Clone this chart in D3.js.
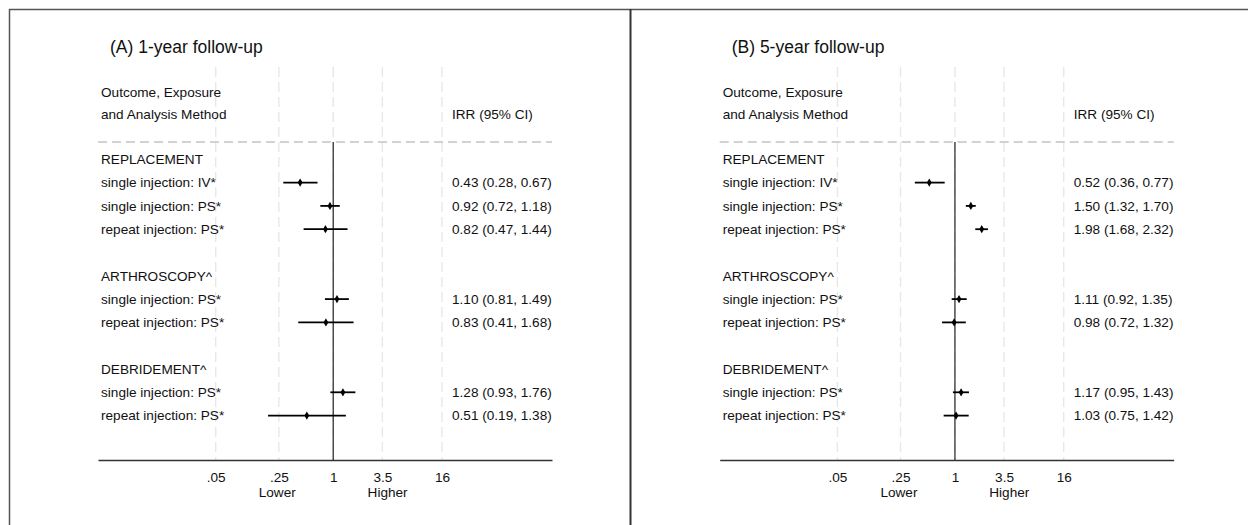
<!DOCTYPE html>
<html>
<head>
<meta charset="utf-8">
<script src="https://cdn.jsdelivr.net/npm/d3@7"></script>
<style>
  body { margin: 0; background: #fff; }
  svg { display: block; font-family: "Liberation Sans", Arial, Helvetica, sans-serif; }
</style>
</head>
<body>
<div id="chart"></div>
<script>
// rows of the forest plot (blank strings are spacer rows)
var rowLabels = ["REPLACEMENT", "single injection: IV*", "single injection: PS*", "repeat injection: PS*", "",
                 "ARTHROSCOPY^", "single injection: PS*", "repeat injection: PS*", "",
                 "DEBRIDEMENT^", "single injection: PS*", "repeat injection: PS*"];

// panel A, 1-year follow-up
var irr1 = [null, 0.43, 0.92, 0.82, null, null, 1.10, 0.83, null, null, 1.28, 0.51];
var lo1  = [null, 0.28, 0.72, 0.47, null, null, 0.81, 0.41, null, null, 0.93, 0.19];
var hi1  = [null, 0.67, 1.18, 1.44, null, null, 1.49, 1.68, null, null, 1.76, 1.38];

// panel B, 5-year follow-up
var irr5 = [null, 0.52, 1.50, 1.98, null, null, 1.11, 0.98, null, null, 1.17, 1.03];
var lo5  = [null, 0.36, 1.32, 1.68, null, null, 0.92, 0.72, null, null, 0.95, 0.75];
var hi5  = [null, 0.77, 1.70, 2.32, null, null, 1.35, 1.32, null, null, 1.43, 1.42];

var tickVals   = [0.05, 0.25, 1, 3.5, 16];
var tickLabels = [".05", ".25", "1", "3.5", "16"];

var panelTitles = ["(A) 1-year follow-up", "(B) 5-year follow-up"];

var W = 1248, H = 525;
var fs = 13.6;
var row0 = 159.3, rowH = 23.3;   // centre of first row, row step
var axisY = 460, hdrY = 142;

var svg = d3.select('#chart').append('svg')
  .attr('width', W).attr('height', H);

// frame
svg.append('line').attr('x1', 9).attr('x2', W).attr('y1', 9.5).attr('y2', 9.5)
  .style('stroke', '#555').style('stroke-width', 1.5);
svg.append('line').attr('x1', 9.5).attr('x2', 9.5).attr('y1', 9).attr('y2', H)
  .style('stroke', '#555').style('stroke-width', 1.5);
svg.append('line').attr('x1', 630.5).attr('x2', 630.5).attr('y1', 9).attr('y2', H)
  .style('stroke', '#333').style('stroke-width', 2);

var fmt = d3.format('.2f');

function drawPanel(offset, title, irr, lo, hi){
  var g = svg.append('g').attr('transform', 'translate(' + offset + ',0)');

  // log scale: ticks .05..16 fixed on screen, then stretched to the axis line
  var x0 = d3.scaleLog().domain([0.05, 16]).range([215.7, 442]);
  var x = x0.copy().domain([x0.invert(98), x0.invert(552)]).range([98, 552]);

  // light vertical grid
  g.selectAll('.grid').data(tickVals).enter().append('line')
    .attr('class', 'grid')
    .attr('x1', function(d){ return x(d); })
    .attr('x2', function(d){ return x(d); })
    .attr('y1', 67).attr('y2', axisY)
    .style('stroke', '#e8e8e8').style('stroke-width', 1.4)
    .style('stroke-dasharray', '10,5');

  // header separator
  g.append('line').attr('x1', 98).attr('x2', 552).attr('y1', hdrY).attr('y2', hdrY)
    .style('stroke', '#c4c4c4').style('stroke-width', 1.3)
    .style('stroke-dasharray', '9,5');

  // null line
  g.append('line').attr('x1', x(1)).attr('x2', x(1)).attr('y1', hdrY).attr('y2', axisY)
    .style('stroke', '#333').style('stroke-width', 1.3);

  // axis
  var axis = d3.axisBottom(x).tickValues(tickVals)
    .tickFormat(function(d, i){ return tickLabels[i]; })
    .tickSizeInner(0).tickSizeOuter(0).tickPadding(12);
  var ax = g.append('g').attr('transform', 'translate(0,' + axisY + ')').call(axis);
  ax.select('.domain').style('stroke', '#333').style('stroke-width', 1.3);
  ax.selectAll('text').style('font-size', fs + 'px').style('fill', '#111')
    .style('font-family', '"Liberation Sans", Arial, sans-serif');

  g.append('text').attr('x', x(0.24)).attr('y', 496.5).attr('text-anchor', 'middle')
    .style('font-size', fs + 'px').style('fill', '#111').text('Lower');
  g.append('text').attr('x', x(4.0)).attr('y', 496.5).attr('text-anchor', 'middle')
    .style('font-size', fs + 'px').style('fill', '#111').text('Higher');

  // title and headers
  g.append('text').attr('x', 110).attr('y', 53)
    .style('font-size', '17.5px').style('fill', '#111').text(title);
  g.append('text').attr('x', 101).attr('y', 96.5)
    .style('font-size', fs + 'px').style('fill', '#111').text('Outcome, Exposure');
  g.append('text').attr('x', 101).attr('y', 119)
    .style('font-size', fs + 'px').style('fill', '#111').text('and Analysis Method');
  g.append('text').attr('x', 452).attr('y', 119)
    .style('font-size', fs + 'px').style('fill', '#111').text('IRR (95% CI)');

  var rows = rowLabels.map(function(lab, i){
    return { label: lab, est: irr[i], lo: lo[i], hi: hi[i], y: row0 + i * rowH };
  });

  g.selectAll('.rowlabel').data(rows).enter().append('text')
    .attr('class', 'rowlabel')
    .attr('x', 101).attr('y', function(d){ return d.y + 4.8; })
    .style('font-size', fs + 'px').style('fill', '#111')
    .text(function(d){ return d.label; });

  var est = rows.filter(function(d){ return d.est != null; });

  g.selectAll('.ci').data(est).enter().append('line')
    .attr('class', 'ci')
    .attr('x1', function(d){ return x(d.lo); })
    .attr('x2', function(d){ return x(d.hi); })
    .attr('y1', function(d){ return d.y; })
    .attr('y2', function(d){ return d.y; })
    .style('stroke', '#000').style('stroke-width', 1.8);

  g.selectAll('.pt').data(est).enter().append('path')
    .attr('class', 'pt')
    .attr('d', d3.symbol().type(d3.symbolDiamond).size(20))
    .attr('transform', function(d){ return 'translate(' + x(d.est) + ',' + d.y + ')'; })
    .style('fill', '#000');

  g.selectAll('.val').data(est).enter().append('text')
    .attr('class', 'val')
    .attr('x', 452).attr('y', function(d){ return d.y + 4.8; })
    .style('font-size', fs + 'px').style('fill', '#111')
    .text(function(d){ return fmt(d.est) + ' (' + fmt(d.lo) + ', ' + fmt(d.hi) + ')'; });
}

drawPanel(0, panelTitles[0], irr1, lo1, hi1);
drawPanel(621.7, panelTitles[1], irr5, lo5, hi5);
</script>
</body>
</html>
